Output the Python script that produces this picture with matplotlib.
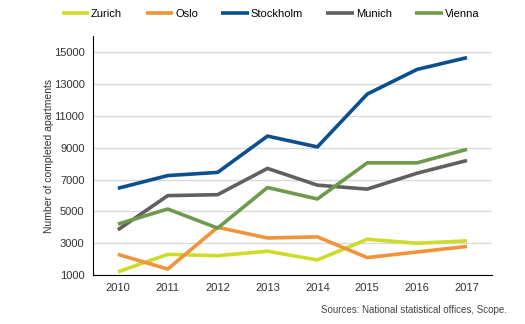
import numpy as np
import matplotlib
matplotlib.use("Agg")
import matplotlib.pyplot as plt

plt.rcParams['font.family'] = ['Liberation Sans', 'DejaVu Sans']

# データ
years = [2010, 2011, 2012, 2013, 2014, 2015, 2016, 2017]
zurich = [1200, 2300, 2220, 2500, 1950, 3250, 3000, 3150]
oslo = [2300, 1380, 4000, 3330, 3400, 2100, 2450, 2800]
stockholm = [6450, 7250, 7450, 9730, 9050, 12370, 13920, 14660]
munich = [3840, 5990, 6050, 7700, 6650, 6400, 7400, 8200]
vienna = [4200, 5150, 3950, 6500, 5780, 8050, 8050, 8900]

series = [
    ("Zurich", zurich, "#cddc2a"),
    ("Oslo", oslo, "#f0933a"),
    ("Stockholm", stockholm, "#0b4f8e"),
    ("Munich", munich, "#606062"),
    ("Vienna", vienna, "#6f9a4c"),
]

fig = plt.figure(figsize=(5.25, 3.24), dpi=100)
ax = fig.add_axes([0.177, 0.151, 0.76, 0.737])

for name, vals, col in series:
    ax.plot(years, vals, color=col, lw=2.6, label=name, solid_capstyle='butt')

ax.set_xlim(2009.5, 2017.5)
ax.set_ylim(1000, 16000)
ax.set_yticks(range(1000, 16000, 2000))
ax.set_xticks(years)
ax.grid(axis='y', color='#d9d9d9', lw=1)
ax.set_axisbelow(True)
for s in ['top', 'right']:
    ax.spines[s].set_visible(False)
ax.spines['left'].set_color('black')
ax.spines['bottom'].set_color('black')
ax.tick_params(length=0, labelsize=8, colors='#333333', pad=6)
ax.set_ylabel('Number of completed apartments', fontsize=7.5, color='#333333', labelpad=0)

fig.legend(loc='center', bbox_to_anchor=(0.515, 0.958), ncol=5, frameon=False,
           fontsize=8, handlelength=2.5, handletextpad=0.15, columnspacing=2.1)

fig.text(0.966, 0.033, 'Sources: National statistical offices, Scope.', ha='right',
         fontsize=7, color='#444444')

fig.savefig('out.png', dpi=100)
